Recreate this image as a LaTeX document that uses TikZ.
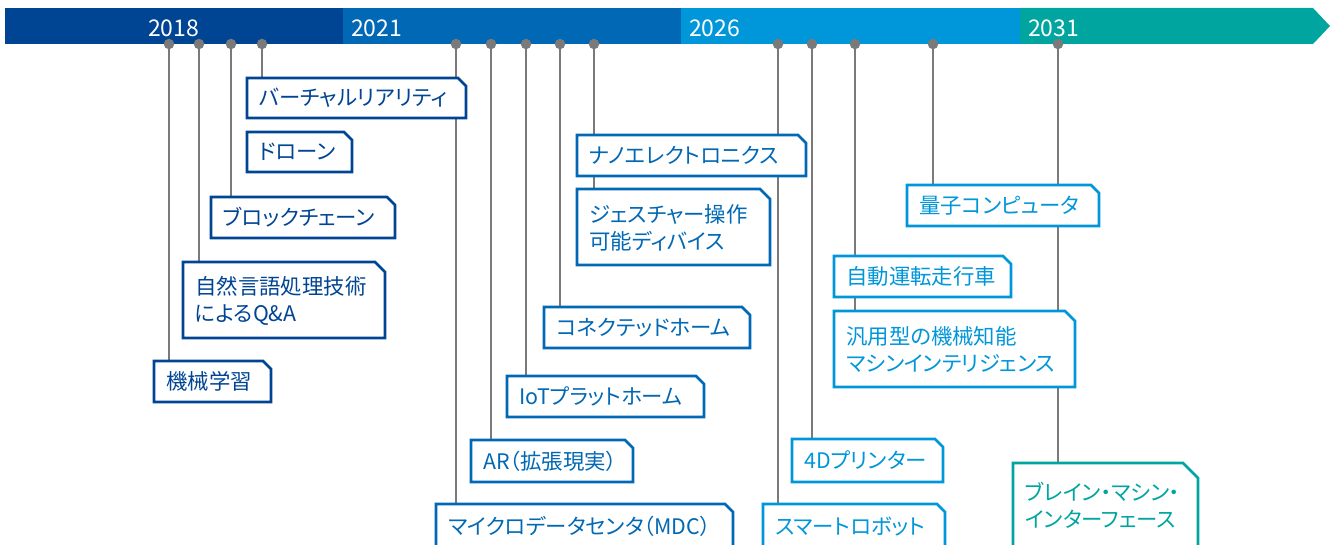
\documentclass[tikz,border=0pt]{standalone}
\usepackage{fontspec}
\setmainfont{Noto Sans CJK JP}[RawFeature={+palt}]
\newfontfamily\yearfont{Noto Sans CJK JP}
\usetikzlibrary{calc}
\definecolor{cA}{HTML}{004494}
\definecolor{cB}{HTML}{0068B4}
\definecolor{cC}{HTML}{0096DA}
\definecolor{cD}{HTML}{00A5A0}
\definecolor{lineg}{HTML}{7A7A7A}
\pgfdeclarelayer{bg}
\pgfsetlayers{bg,main}
\newcommand\boxfont{\fontsize{21.4pt}{27pt}\selectfont}
\newcommand\tlbox[9]{%
  \node[anchor=north west, minimum width=#5pt, minimum height=#6pt, inner sep=0pt, outer sep=0pt] (#1) at (#3,#4) {};
  \draw[#2, line width=2.6pt, fill=white, line join=miter] (#1.south west) -- (#1.north west) -- ([xshift=-#8pt]#1.north east) -- ([yshift=-#8pt]#1.north east) -- (#1.south east) -- cycle;
  \node[anchor=west, align=left, inner sep=0pt, text=#2, font=\boxfont] (#1-t) at ([xshift=12pt, yshift=-#7pt]#1.north west) {#9};
}
\tikzset{
  dot/.style={circle, fill=lineg, minimum size=10.5pt, inner sep=0pt},
  conn/.style={lineg, line width=1.8pt},
  year/.style={anchor=base west, inner sep=0pt, text=white, font=\yearfont\fontsize{23pt}{26pt}\selectfont}
}
\begin{document}
\begin{tikzpicture}[x=1pt,y=-1pt]
\useasboundingbox (0,0) rectangle (1331,545);
\clip (0,0) rectangle (1331,545);
% timeline bar
\begin{pgfonlayer}{bg}
\fill[cA] (5,8) rectangle (343,44);
\fill[cB] (343,8) rectangle (681,44);
\fill[cC] (681,8) rectangle (1020,44);
\fill[cD] (1020,8) -- (1313,8) -- (1330,26) -- (1313,44) -- (1020,44) -- cycle;
\end{pgfonlayer}
\node[year] (y2018) at (148,37) {2018};
\node[year] (y2021) at (351,37) {2021};
\node[year] (y2026) at (689,37) {2026};
\node[year] (y2031) at (1028,37) {2031};
% boxes 2018
\tlbox{vr}{cA}{247}{78}{219}{40}{20}{8}{バーチャルリアリティ}
\tlbox{drone}{cA}{247}{132}{105}{40}{20}{8}{ドローン}
\tlbox{block}{cA}{211}{197}{184}{41}{20.5}{8}{ブロックチェーン}
\tlbox{nlp}{cA}{183}{262}{202}{76}{39}{10}{自然言語処理技術\\によるQ\&A}
\tlbox{ml}{cA}{154}{361}{117}{41}{20.5}{8}{機械学習}
% boxes 2021
\tlbox{nano}{cB}{577}{135}{229}{41}{20.5}{8}{ナノエレクトロニクス}
\tlbox{gest}{cB}{577}{189}{193}{76}{39}{10}{ジェスチャー操作\\可能ディバイス}
\tlbox{conh}{cB}{544}{307}{206}{41}{20.5}{8}{コネクテッドホーム}
\tlbox{iot}{cB}{507}{376}{197}{41}{20.5}{8}{IoTプラットホーム}
\tlbox{ar}{cB}{471}{440}{162}{42}{21}{8}{AR（拡張現実）}
\tlbox{mdc}{cB}{436}{504}{297}{60}{22.5}{8}{マイクロデータセンタ（MDC）}
% boxes 2026
\tlbox{qc}{cC}{907}{185}{192}{41}{20.5}{8}{量子コンピュータ}
\tlbox{auto}{cC}{834}{256}{177}{41}{20.5}{8}{自動運転走行車}
\tlbox{agi}{cC}{834}{311}{241}{76}{39}{10}{汎用型の機械知能\\マシンインテリジェンス}
\tlbox{fourd}{cC}{792}{439}{151}{43}{21.5}{8}{4Dプリンター}
\tlbox{robot}{cC}{763}{504}{182}{60}{22.5}{8}{スマートロボット}
% boxes 2031
\tlbox{bmi}{cD}{1013}{463}{185}{100}{42.5}{15}{ブレイン・マシン・\\インターフェース}
% dots
\node[dot] (d1) at (169,44) {};
\node[dot] (d2) at (199,44) {};
\node[dot] (d3) at (231,44) {};
\node[dot] (d4) at (262,44) {};
\node[dot] (d5) at (456,44) {};
\node[dot] (d6) at (491,44) {};
\node[dot] (d7) at (526,44) {};
\node[dot] (d8) at (560,44) {};
\node[dot] (d9) at (594,44) {};
\node[dot] (d10) at (778,44) {};
\node[dot] (d11) at (812,44) {};
\node[dot] (d12) at (855,44) {};
\node[dot] (d13) at (933,44) {};
\node[dot] (d14) at (1058,44) {};
% connectors
\begin{pgfonlayer}{bg}
\draw[conn] (d1.center) -- (d1.center |- ml.north);
\draw[conn] (d2.center) -- (d2.center |- nlp.north);
\draw[conn] (d3.center) -- (d3.center |- block.north);
\draw[conn] (d4.center) -- (d4.center |- vr.north);
\draw[conn] (d5.center) -- (d5.center |- mdc.north);
\draw[conn] (d6.center) -- (d6.center |- ar.north);
\draw[conn] (d7.center) -- (d7.center |- iot.north);
\draw[conn] (d8.center) -- (d8.center |- conh.north);
\draw[conn] (d9.center) -- (d9.center |- gest.north);
\draw[conn] (d10.center) -- (d10.center |- robot.north);
\draw[conn] (d11.center) -- (d11.center |- fourd.north);
\draw[conn] (d12.center) -- (d12.center |- agi.north);
\draw[conn] (d13.center) -- (d13.center |- qc.north);
\draw[conn] (d14.center) -- (d14.center |- bmi.north);
\end{pgfonlayer}
\end{tikzpicture}
\end{document}
